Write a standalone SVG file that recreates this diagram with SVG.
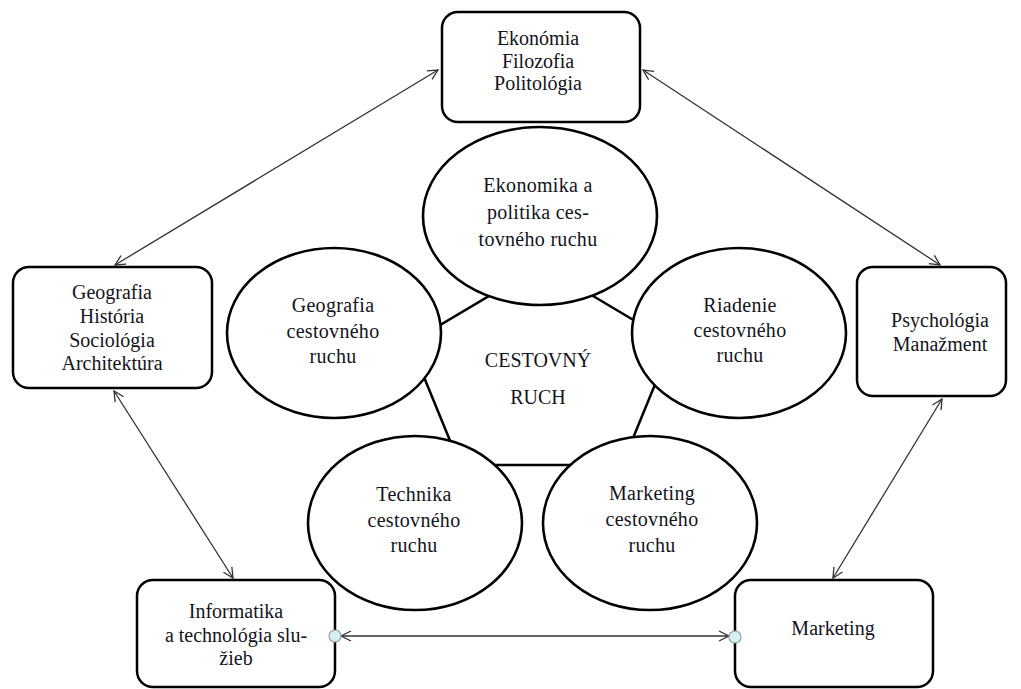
<svg xmlns="http://www.w3.org/2000/svg" width="1021" height="689" viewBox="0 0 1021 689">
<defs>
<marker id="arr" viewBox="0 0 12 12" refX="11" refY="6" markerWidth="12" markerHeight="12" markerUnits="userSpaceOnUse" orient="auto-start-reverse">
<path d="M1,1 L11,6 L1,11" fill="none" stroke="#333" stroke-width="1.3"/>
</marker>
<style>
.box{fill:#fff;stroke:#000;stroke-width:2.5}
.ell{fill:#fff;stroke:#000;stroke-width:2.6}
.pent{fill:none;stroke:#000;stroke-width:2.5}
.con{fill:none;stroke:#333;stroke-width:1.3;marker-start:url(#arr);marker-end:url(#arr)}
.dot{fill:#d8eff4;stroke:#8fa6ad;stroke-width:1.2}
text{font-family:"Liberation Serif","Times New Roman",serif;font-size:20px;fill:#141420;text-anchor:middle}
.et{letter-spacing:0.3px}
</style>
</defs>
<rect width="1021" height="689" fill="#fff"/>
<g id="connectors">
<line class="con" x1="438" y1="70" x2="115" y2="265"/>
<line class="con" x1="643" y1="70" x2="940" y2="265"/>
<line class="con" x1="114" y1="391" x2="233" y2="578"/>
<line class="con" x1="942" y1="399" x2="833" y2="578"/>
<line class="con" x1="341" y1="636" x2="729" y2="636"/>
</g>
<g id="center">
<polygon class="pent" points="541,265 672,343 622,465 460,465 410,343"/>
<text x="538" y="367">CESTOVNÝ</text>
<text x="538" y="404">RUCH</text>
</g>
<g id="ell-top">
<ellipse class="ell" cx="540" cy="216" rx="117" ry="89"/>
<text class="et" x="538" y="192">Ekonomika a</text>
<text class="et" x="538" y="219">politika ces-</text>
<text class="et" x="538" y="246">tovného ruchu</text>
</g>
<g id="ell-left">
<ellipse class="ell" cx="334" cy="333" rx="107" ry="85"/>
<text class="et" x="333" y="312">Geografia</text>
<text class="et" x="333" y="338">cestovného</text>
<text class="et" x="333" y="363">ruchu</text>
</g>
<g id="ell-right">
<ellipse class="ell" cx="739" cy="333" rx="107" ry="85"/>
<text class="et" x="740" y="312">Riadenie</text>
<text class="et" x="740" y="337">cestovného</text>
<text class="et" x="740" y="362">ruchu</text>
</g>
<g id="ell-bl">
<ellipse class="ell" cx="415" cy="523" rx="107" ry="87"/>
<text class="et" x="414" y="501">Technika</text>
<text class="et" x="414" y="527">cestovného</text>
<text class="et" x="414" y="552">ruchu</text>
</g>
<g id="ell-br">
<ellipse class="ell" cx="650" cy="523" rx="107" ry="87"/>
<text class="et" x="652" y="500">Marketing</text>
<text class="et" x="652" y="526">cestovného</text>
<text class="et" x="652" y="552">ruchu</text>
</g>
<g id="box-top">
<rect class="box" x="442" y="12" width="198" height="110" rx="16"/>
<text x="538" y="45">Ekonómia</text>
<text x="538" y="68">Filozofia</text>
<text x="538" y="90">Politológia</text>
</g>
<g id="box-left">
<rect class="box" x="13" y="267" width="199" height="121" rx="16"/>
<text x="112" y="299">Geografia</text>
<text x="112" y="323">História</text>
<text x="112" y="347">Sociológia</text>
<text x="112" y="370">Architektúra</text>
</g>
<g id="box-right">
<rect class="box" x="857" y="267" width="149" height="129" rx="16"/>
<text x="940" y="327">Psychológia</text>
<text x="940" y="351">Manažment</text>
</g>
<g id="box-bl">
<rect class="box" x="137" y="580" width="198" height="107" rx="16"/>
<text x="236" y="618">Informatika</text>
<text x="236" y="642">a technológia slu-</text>
<text x="236" y="665">žieb</text>
<circle class="dot" cx="335" cy="636" r="6"/>
</g>
<g id="box-br">
<rect class="box" x="735" y="580" width="198" height="107" rx="16"/>
<text x="833" y="635">Marketing</text>
<circle class="dot" cx="735" cy="637" r="6"/>
</g>
</svg>
